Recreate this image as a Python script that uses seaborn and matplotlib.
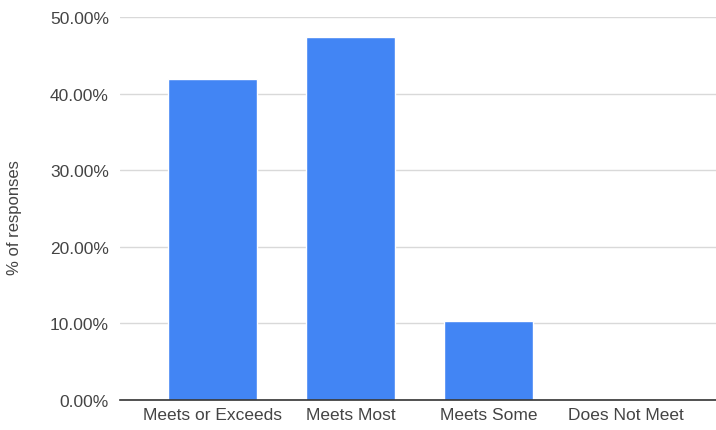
import matplotlib
matplotlib.use("Agg")
import matplotlib.pyplot as plt
import seaborn as sns
import pandas as pd
from matplotlib.ticker import FuncFormatter

categories = ["Meets or Exceeds", "Meets Most", "Meets Some", "Does Not Meet"]
percent = [41.9, 47.4, 10.3, 0.0]

df = pd.DataFrame({"category": categories, "percent": percent})

sns.set_theme(style="white")
plt.rcParams["font.family"] = ["Liberation Sans", "DejaVu Sans"]

fig = plt.figure(figsize=(7.16, 4.31), dpi=100)
ax = fig.add_axes([0.1676, 0.0696, 0.8324, 0.8886])

sns.barplot(data=df, x="category", y="percent", color="#4285F4",
            saturation=1, width=0.64, ax=ax, zorder=3)

ax.set_ylim(0, 50)
ax.set_xlim(-0.67, 3.65)
ax.set_yticks([0, 10, 20, 30, 40, 50])
ax.yaxis.set_major_formatter(FuncFormatter(lambda v, p: f"{v:.2f}%"))
ax.grid(axis="y", color="#d9d9d9", linewidth=1, zorder=0)
ax.set_axisbelow(True)

for s in ["top", "right", "left"]:
    ax.spines[s].set_visible(False)
ax.spines["bottom"].set_color("#333333")
ax.spines["bottom"].set_linewidth(1.2)
ax.spines["bottom"].set_zorder(4)

ax.tick_params(axis="both", length=0, labelsize=12.5, labelcolor="#444444")
ax.tick_params(axis="y", pad=8)
ax.tick_params(axis="x", pad=5)
ax.set_xlabel("")
ax.set_ylabel("% of responses", fontsize=12, color="#444444")
ax.yaxis.set_label_coords(-0.165, 0.48)

fig.savefig("out.png", dpi=100)
